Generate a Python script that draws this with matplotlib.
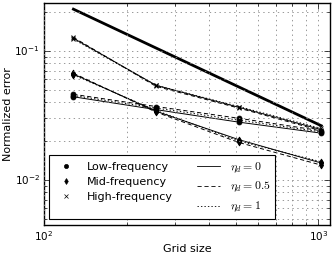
import numpy as np
import matplotlib
matplotlib.use('Agg')
import matplotlib.pyplot as plt
from matplotlib.lines import Line2D

# grid sizes
grid = [128, 256, 512, 1024]

# first order reference line
ref = [0.21, 0.105, 0.0525, 0.02625]

# normalized error, one list per eta_d (0, 0.5, 1)
low = [[0.044, 0.035, 0.028, 0.0230],
       [0.046, 0.037, 0.030, 0.0240],
       [0.045, 0.036, 0.029, 0.0235]]
mid = [[0.066, 0.0340, 0.0205, 0.0135],
       [0.067, 0.0335, 0.0195, 0.0130],
       [0.065, 0.0345, 0.0200, 0.0138]]
high = [[0.125, 0.054, 0.0365, 0.0245],
        [0.127, 0.053, 0.0360, 0.0240],
        [0.123, 0.054, 0.0370, 0.0250]]

etas = ['0', '0.5', '1']
freq_names = ['Low-frequency', 'Mid-frequency', 'High-frequency']
markers = ['o', 'd', 'x']

plt.style.use('classic')
plt.rcParams['font.family'] = ['DejaVu Sans']
plt.rcParams['lines.dashed_pattern'] = [3, 2]
plt.rcParams['lines.dotted_pattern'] = [1, 1.5]
plt.rcParams['lines.scale_dashes'] = False
styles = ['-', '--', ':']

fig = plt.figure(figsize=(3.32, 2.57), dpi=100, facecolor='white')
ax = fig.add_axes([0.1325, 0.126, 0.861, 0.861])

ax.loglog(grid, ref, 'k-', lw=2)

for data, mk in zip([low, mid, high], markers):
    for vals, ls in zip(data, styles):
        ax.loglog(grid, vals, color='k', ls=ls, lw=0.7, marker=mk,
                  markersize=3.5, markeredgewidth=0.6)

ax.set_xlim(100, 1100)
ax.set_ylim(0.0045, 0.233)
ax.grid(True, which='both', color='#888888', ls=(0, (1, 2.5)), lw=0.6)
ax.set_xlabel('Grid size', fontsize=8, labelpad=1)
ax.set_ylabel('Normalized error', fontsize=8, labelpad=1)
ax.tick_params(axis='both', which='major', labelsize=7.5, pad=3)

# legend: markers in first column, line styles in second
handles = []
labels = []
for name, mk in zip(freq_names, markers):
    handles.append(Line2D([], [], color='k', ls='none', marker=mk,
                          markersize=3, markeredgewidth=0.5))
    labels.append(name)
for eta, ls in zip(etas, styles):
    handles.append(Line2D([], [], color='k', ls=ls, lw=0.6))
    labels.append(r'$\eta_d = %s$' % eta)

leg = ax.legend(handles, labels, ncol=2, loc='lower left',
                bbox_to_anchor=(0.017, 0.025), borderaxespad=0,
                fontsize=8, numpoints=1, handlelength=2.1,
                handletextpad=0.85, columnspacing=2.2, labelspacing=0.45,
                borderpad=0.45, fancybox=False)
leg.get_frame().set_linewidth(0.8)
for t in leg.get_texts()[3:]:
    t.set_math_fontfamily('cm')
    t.set_fontsize(8.5)

fig.savefig('out.png', dpi=100, facecolor='white')
